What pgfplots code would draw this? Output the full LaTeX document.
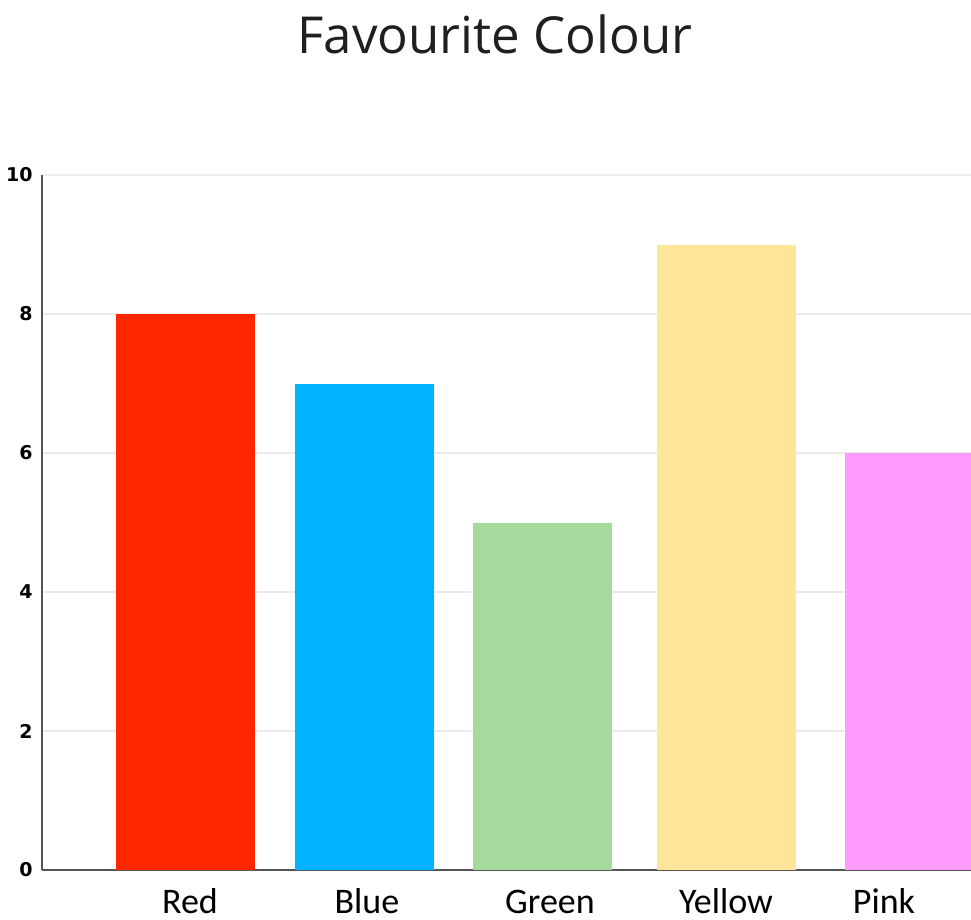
\documentclass[border=0pt]{standalone}
\usepackage{fontspec}
\usepackage{pgfplots}
\pgfplotsset{compat=1.18}
\setmainfont{Carlito}
\newfontfamily\titlefont{Open Sans}
\newfontfamily\tickfont{DejaVu Sans}

\definecolor{cRed}{HTML}{FF2600}
\definecolor{cBlue}{HTML}{00B2FF}
\definecolor{cGreen}{HTML}{A6DA9C}
\definecolor{cYellow}{HTML}{FDE69A}
\definecolor{cPink}{HTML}{FF9BFF}
\definecolor{axisgray}{HTML}{555555}
\definecolor{gridgray}{HTML}{EBEBEB}

\begin{document}
\begin{tikzpicture}
% 1 px of the reference = 0.5pt; x data are pixel columns
\begin{axis}[
    scale only axis,
    width=464.5pt, height=347.5pt,
    xmin=42, xmax=971,
    ymin=0, ymax=10,
    ytick={0,2,...,10},
    xtick={190,367,550,726,884},
    xticklabels={Red,Blue,Green,Yellow,Pink},
    major tick length=0pt,
    axis x line=bottom, axis y line=left,
    axis line style={axisgray, line width=1pt, -},
    ymajorgrids,
    grid style={gridgray, line width=1pt},
    ybar, bar width=69.5pt, bar shift=0pt,
    /pgf/number format/assume math mode=true,
    yticklabel style={font=\tickfont\bfseries\fontsize{9.5}{10}\selectfont, anchor=east, inner sep=0pt, xshift=-4.5pt},
    xticklabel style={font=\fontsize{18}{20}\selectfont, anchor=base, inner sep=0pt, yshift=-21.5pt},
    clip=true,
]
\addplot[fill=cRed, draw=none] coordinates {(185.5,8)};
\addplot[fill=cBlue, draw=none] coordinates {(364.5,7)};
\addplot[fill=cGreen, draw=none] coordinates {(542,5)};
\addplot[fill=cYellow, draw=none] coordinates {(726,9)};
\addplot[fill=cPink, draw=none] coordinates {(914,6)};
\coordinate (bl) at (rel axis cs:-0.0452,-0.0719);
\coordinate (tr) at (rel axis cs:1,1.2518);
\coordinate (tt) at (rel axis cs:0.4876,1.1755);
\end{axis}
\node[anchor=base, inner sep=0pt, font=\titlefont\fontsize{25.5}{28}\selectfont, text=black!88] at (tt) {Favourite Colour};
\pgfresetboundingbox
\path[use as bounding box] (bl) rectangle (tr);
\end{tikzpicture}
\end{document}
